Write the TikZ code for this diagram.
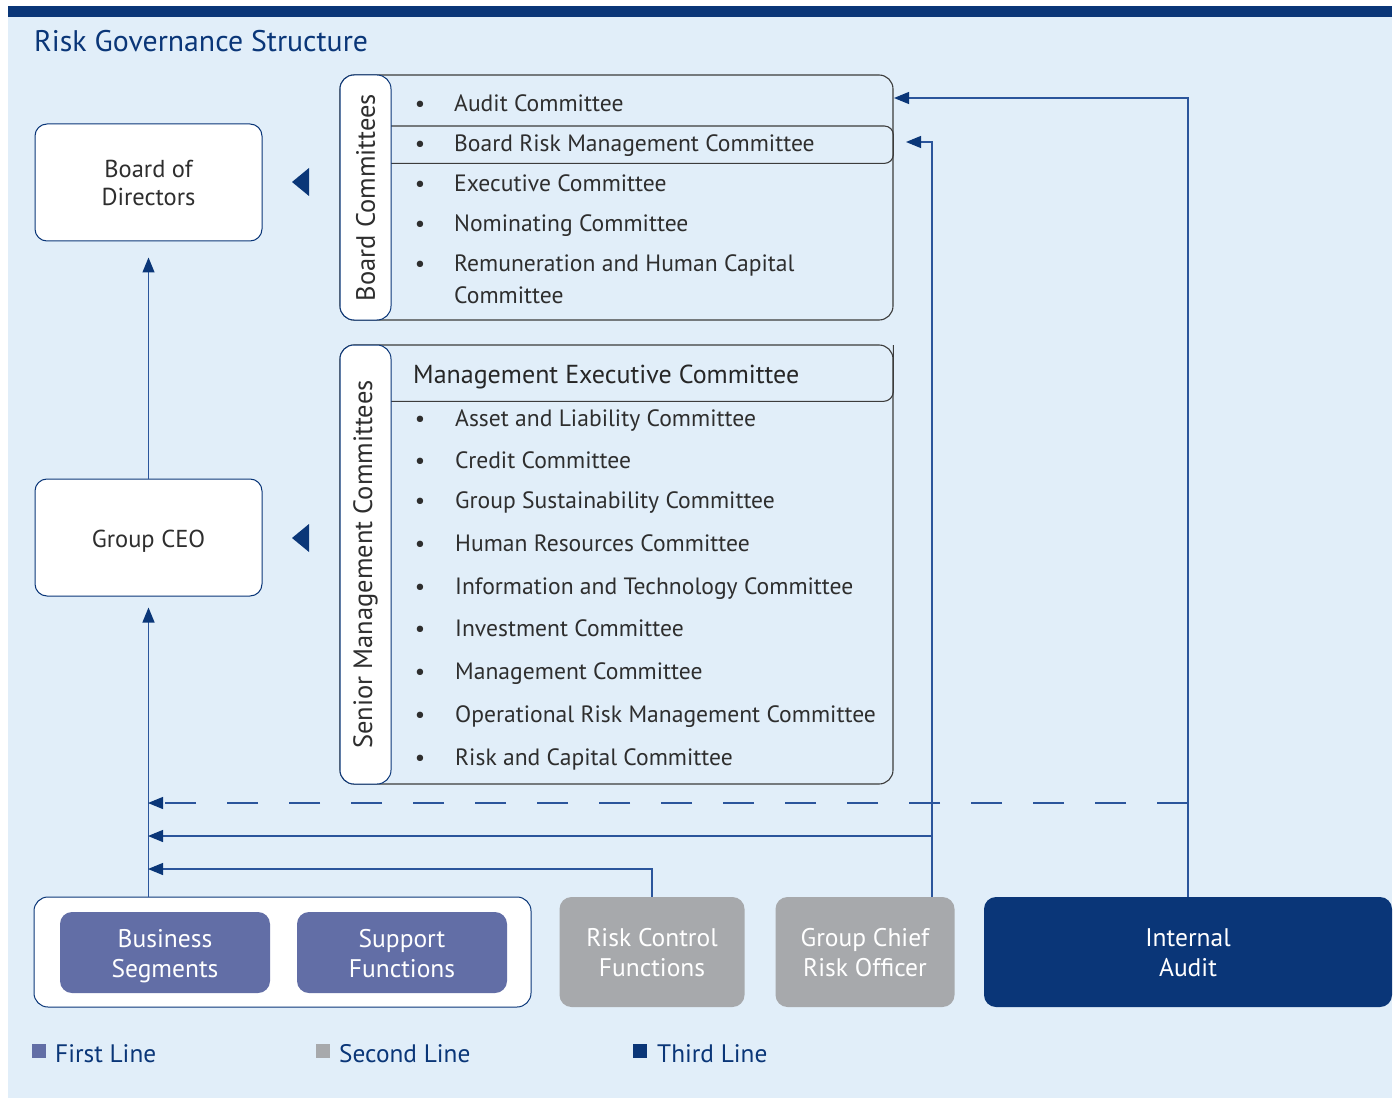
\documentclass[tikz,border=0pt]{standalone}
\usepackage{fontspec}
\setmainfont{PT Sans}
\usetikzlibrary{arrows.meta}
\definecolor{bgc}{HTML}{E1EEF9}
\definecolor{navy}{HTML}{0A3678}
\definecolor{lineblue}{HTML}{2B559C}
\definecolor{firstc}{HTML}{626EA6}
\definecolor{secondc}{HTML}{A7A9AC}
\definecolor{txt}{HTML}{2E2E2E}
\definecolor{framec}{HTML}{3C3C3C}
\newcommand\myfs[2]{\fontsize{#1}{#2}\selectfont}
\newcommand\lsa{\rule{0pt}{26pt}}
\newcommand\lsb{\rule[-7pt]{0pt}{7pt}}
\begin{document}
\begin{tikzpicture}[x=1pt,y=-1pt,
  wbox/.style={draw=navy, fill=white, rounded corners=12pt, line width=1pt, text=txt, align=center, font=\myfs{24.5}{28}, inner sep=0},
  outerbox/.style={draw=framec, rounded corners=14pt, line width=1.1pt, inner sep=0},
  tabbox/.style={draw=navy, fill=white, rounded corners=14pt, line width=1pt, inner sep=0, rotate=90, text=txt, font=\myfs{26.5}{30}},
  rowline/.style={draw=framec, line width=1.1pt},
  item/.style={anchor=base west, inner sep=0, text=txt, font=\myfs{23.6}{27}},
  bul/.style={anchor=base, inner sep=0, text=txt, font=\myfs{23}{26}},
  lbox/.style={rounded corners=12pt, inner sep=0, text=white, align=center, font=\myfs{25.5}{30}},
  conn/.style={draw=lineblue, line width=1.2pt, -{Triangle[length=15pt,width=12pt,color=navy]}},
  leg/.style={anchor=base west, inner sep=0, text=navy, font=\myfs{25.3}{28}}
]
\useasboundingbox (0,0) rectangle (1397,1099);
\fill[white] (0,0) rectangle (1397,1099);
\fill[bgc] (8,6) rectangle (1392,1098);
\fill[navy] (8,6) rectangle (1392,17);

\node[anchor=base west, inner sep=0, text=navy, font=\myfs{29.8}{32}] (title) at (34,52) {Risk Governance Structure};

% left boxes
\node[wbox, minimum width=227, minimum height=117] (bod) at (148.5,182.5) {Board of\\Directors};
\node[wbox, minimum width=227, minimum height=117] (ceo) at (148.5,537.5) {\raisebox{0pt}[20pt][0pt]{Group CEO}};

% pointer triangles
\fill[navy] (292,182) -- (309,168) -- (309,196) -- cycle;
\fill[navy] (292,538) -- (309,524) -- (309,552) -- cycle;

% Board committees
\node[outerbox, minimum width=553, minimum height=245] (bc) at (616.5,197.5) {};
\node[inner sep=0, minimum width=502, minimum height=37, anchor=north west] (brmc) at (391,126) {};
\draw[rowline, rounded corners=9pt] (brmc.north west) -| (brmc.south east) -- (brmc.south west);
\node[tabbox, minimum width=245, minimum height=51] (bctab) at (365.5,197.5) {Board Committees};

\foreach \t/\y in {Audit Committee/112, Board Risk Management Committee/152, Executive Committee/192, Nominating Committee/232, Remuneration and Human Capital/272}{
  \node[bul] at (420,\y) {•};
  \node[item] at (454,\y) {\t};
}
\node[item] (remc) at (454,304) {Committee};

% Senior management committees
\node[outerbox, minimum width=553, minimum height=439] (smc) at (616.5,564.5) {};
\node[inner sep=0, minimum width=502, minimum height=56, anchor=north west] (mech) at (391,345) {};
\draw[rowline, rounded corners=10pt] (mech.south west) -| (mech.north east);
\node[anchor=base west, inner sep=0, text=black!85, font=\myfs{26}{30}] (mect) at (413,383) {Management Executive Committee};
\node[tabbox, minimum width=439, minimum height=51] (smctab) at (365.5,564.5) {Senior Management Committees};

\foreach \t/\y in {Asset and Liability Committee/426, Credit Committee/468, Group Sustainability Committee/508, Human Resources Committee/551, Information and Technology Committee/594, Investment Committee/636, Management Committee/679, Operational Risk Management Committee/722, Risk and Capital Committee/765}{
  \node[bul] at (420,\y) {•};
  \node[item] at (455,\y) {\t};
}

% bottom boxes
\node[wbox, minimum width=497, minimum height=110, rounded corners=14pt] (fl) at (282.5,952) {};
\node[lbox, fill=firstc, minimum width=210, minimum height=81] (bs) at (165,952.5) {\lsa Business\\Segments\lsb};
\node[lbox, fill=firstc, minimum width=210, minimum height=81] (sf) at (402,952.5) {\lsa Support\\Functions\lsb};
\node[lbox, fill=secondc, minimum width=185, minimum height=110] (rcf) at (652,952) {\lsa Risk Control\\Functions\lsb};
\node[lbox, fill=secondc, minimum width=179, minimum height=110] (gcro) at (865,952) {\lsa Group Chief\\Risk Officer\lsb};
\node[lbox, fill=navy, minimum width=408, minimum height=110] (ia) at (1188,952) {\lsa Internal\\Audit\lsb};

% legend
\fill[firstc] (32,1044) rectangle (46,1058);
\node[leg] (l1) at (55,1062) {First Line};
\fill[secondc] (316,1044) rectangle (330,1058);
\node[leg] (l2) at (339,1062) {Second Line};
\fill[navy] (633,1044) rectangle (647,1058);
\node[leg] (l3) at (657,1062) {Third Line};

% connectors
\coordinate (gTop) at (932,897);
\coordinate (j1) at (148,803);
\coordinate (j2) at (148,836);
\coordinate (j3) at (148,869);
\coordinate (auditTip) at (894,98);
\coordinate (brmcTip) at (906,142);

\draw[conn, shorten >=16pt] (ceo.north) -- (bod.south);
\draw[conn, shorten >=11pt] (ceo.south |- fl.north) -- (ceo.south);
\draw[conn] (rcf.north) |- (j3);
\draw[conn] (gTop |- j2) -- (j2);
\draw[conn] (gTop) |- (brmcTip);
\draw[conn] (ia.north) |- (auditTip);
\draw[conn, dash pattern=on 31pt off 31pt] (ia.north |- j1) -- (j1);
\end{tikzpicture}
\end{document}
